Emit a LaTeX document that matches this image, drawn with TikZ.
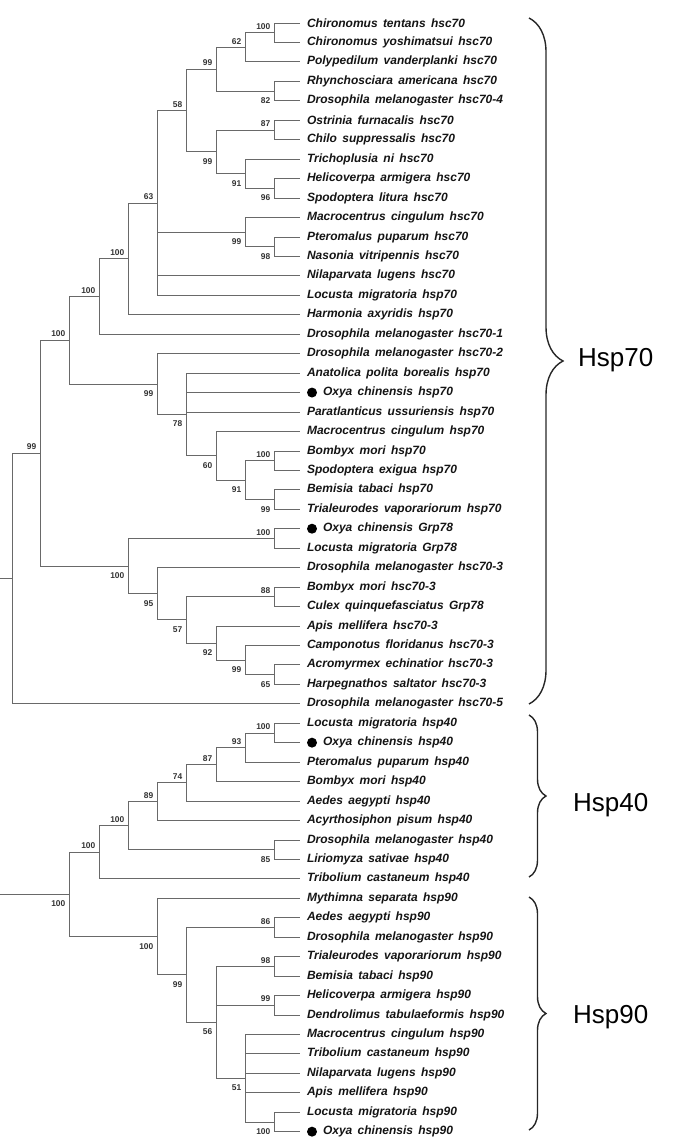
\documentclass[tikz,border=0pt]{standalone}
\usepackage{fontspec}
\setmainfont{Liberation Sans}
\newfontfamily\leaffont[WordSpace=1.6]{Liberation Sans}
\usetikzlibrary{positioning,decorations.pathreplacing}
\definecolor{treegray}{RGB}{105,105,105}
\definecolor{bootgray}{RGB}{50,50,50}
\definecolor{leafink}{RGB}{20,20,20}

\begin{document}
\begin{tikzpicture}[x=1pt,y=-1pt,
  branch/.style={treegray, line width=0.8pt},
  twig/.style={branch, shorten >=7pt},
  leaf/.style={anchor=west, inner sep=0pt, outer sep=0pt, text=leafink, font=\leaffont\bfseries\itshape\fontsize{12}{13}\selectfont},
  oxdot/.style={circle, fill=black, inner sep=0pt, outer sep=0pt, minimum size=10pt},
  bsup/.style={anchor=south east, inner sep=0pt, xshift=-3.5pt, yshift=3pt, text=bootgray, font=\bfseries\fontsize{8.4}{9}\selectfont},
  bsdn/.style={anchor=north east, inner sep=0pt, xshift=-3.5pt, yshift=-6.5pt, text=bootgray, font=\bfseries\fontsize{8.4}{9}\selectfont},
  clade/.style={decorate, decoration={brace, amplitude=#1}, line width=1.4pt, black!85},
  cname/.style={anchor=west, inner sep=0pt, font=\fontsize{26}{30}\selectfont}]
  \useasboundingbox (0,0) rectangle (673,1147);

  % Leaves: Hsp70
  \node[leaf] (l1) at (307,23.00) {Chironomus tentans hsc70};
  \node[leaf] (l2) at (307,42.45) {Chironomus yoshimatsui hsc70};
  \node[leaf] (l3) at (307,61.90) {Polypedilum vanderplanki hsc70};
  \node[leaf] (l4) at (307,81.35) {Rhynchosciara americana hsc70};
  \node[leaf] (l5) at (307,100.80) {Drosophila melanogaster hsc70-4};
  \node[leaf] (l6) at (307,120.25) {Ostrinia furnacalis hsc70};
  \node[leaf] (l7) at (307,139.70) {Chilo suppressalis hsc70};
  \node[leaf] (l8) at (307,159.15) {Trichoplusia ni hsc70};
  \node[leaf] (l9) at (307,178.60) {Helicoverpa armigera hsc70};
  \node[leaf] (l10) at (307,198.05) {Spodoptera litura hsc70};
  \node[leaf] (l11) at (307,217.50) {Macrocentrus cingulum hsc70};
  \node[leaf] (l12) at (307,236.95) {Pteromalus puparum hsc70};
  \node[leaf] (l13) at (307,256.40) {Nasonia vitripennis hsc70};
  \node[leaf] (l14) at (307,275.85) {Nilaparvata lugens hsc70};
  \node[leaf] (l15) at (307,295.30) {Locusta migratoria hsp70};
  \node[leaf] (l16) at (307,314.75) {Harmonia axyridis hsp70};
  \node[leaf] (l17) at (307,334.20) {Drosophila melanogaster hsc70-1};
  \node[leaf] (l18) at (307,353.65) {Drosophila melanogaster hsc70-2};
  \node[leaf] (l19) at (307,373.10) {Anatolica polita borealis hsp70};
  \node[oxdot] (d20) at (312,392.55) {};
  \node[leaf, right=6pt of d20] (l20) {Oxya chinensis hsp70};
  \node[leaf] (l21) at (307,412.00) {Paratlanticus ussuriensis hsp70};
  \node[leaf] (l22) at (307,431.45) {Macrocentrus cingulum hsp70};
  \node[leaf] (l23) at (307,450.90) {Bombyx mori hsp70};
  \node[leaf] (l24) at (307,470.35) {Spodoptera exigua hsp70};
  \node[leaf] (l25) at (307,489.80) {Bemisia tabaci hsp70};
  \node[leaf] (l26) at (307,509.25) {Trialeurodes vaporariorum hsp70};
  \node[oxdot] (d27) at (312,528.70) {};
  \node[leaf, right=6pt of d27] (l27) {Oxya chinensis Grp78};
  \node[leaf] (l28) at (307,548.15) {Locusta migratoria Grp78};
  \node[leaf] (l29) at (307,567.60) {Drosophila melanogaster hsc70-3};
  \node[leaf] (l30) at (307,587.05) {Bombyx mori hsc70-3};
  \node[leaf] (l31) at (307,606.50) {Culex quinquefasciatus Grp78};
  \node[leaf] (l32) at (307,625.95) {Apis mellifera hsc70-3};
  \node[leaf] (l33) at (307,645.40) {Camponotus floridanus hsc70-3};
  \node[leaf] (l34) at (307,664.85) {Acromyrmex echinatior hsc70-3};
  \node[leaf] (l35) at (307,684.30) {Harpegnathos saltator hsc70-3};
  \node[leaf] (l36) at (307,703.75) {Drosophila melanogaster hsc70-5};

  % Leaves: Hsp40
  \node[leaf] (l37) at (307,723.20) {Locusta migratoria hsp40};
  \node[oxdot] (d38) at (312,742.65) {};
  \node[leaf, right=6pt of d38] (l38) {Oxya chinensis hsp40};
  \node[leaf] (l39) at (307,762.10) {Pteromalus puparum hsp40};
  \node[leaf] (l40) at (307,781.55) {Bombyx mori hsp40};
  \node[leaf] (l41) at (307,801.00) {Aedes aegypti hsp40};
  \node[leaf] (l42) at (307,820.45) {Acyrthosiphon pisum hsp40};
  \node[leaf] (l43) at (307,839.90) {Drosophila melanogaster hsp40};
  \node[leaf] (l44) at (307,859.35) {Liriomyza sativae hsp40};
  \node[leaf] (l45) at (307,878.80) {Tribolium castaneum hsp40};

  % Leaves: Hsp90
  \node[leaf] (l46) at (307,898.25) {Mythimna separata hsp90};
  \node[leaf] (l47) at (307,917.70) {Aedes aegypti hsp90};
  \node[leaf] (l48) at (307,937.15) {Drosophila melanogaster hsp90};
  \node[leaf] (l49) at (307,956.60) {Trialeurodes vaporariorum hsp90};
  \node[leaf] (l50) at (307,976.05) {Bemisia tabaci hsp90};
  \node[leaf] (l51) at (307,995.50) {Helicoverpa armigera hsp90};
  \node[leaf] (l52) at (307,1014.95) {Dendrolimus tabulaeformis hsp90};
  \node[leaf] (l53) at (307,1034.40) {Macrocentrus cingulum hsp90};
  \node[leaf] (l54) at (307,1053.85) {Tribolium castaneum hsp90};
  \node[leaf] (l55) at (307,1073.30) {Nilaparvata lugens hsp90};
  \node[leaf] (l56) at (307,1092.75) {Apis mellifera hsp90};
  \node[leaf] (l57) at (307,1112.20) {Locusta migratoria hsp90};
  \node[oxdot] (d58) at (312,1131.65) {};
  \node[leaf, right=6pt of d58] (l58) {Oxya chinensis hsp90};

  % Inner nodes and bootstrap values: Hsp70 tree
  \coordinate (n1) at (274,32.73);   \node[bsup] (bn1) at (n1) {100};
  \coordinate (n2) at (245,47.31);   \node[bsup] (bn2) at (n2) {62};
  \coordinate (n3) at (274,91.08);   \node[bsdn] (bn3) at (n3) {82};
  \coordinate (n4) at (216,69.19);   \node[bsup] (bn4) at (n4) {99};
  \coordinate (n5) at (274,129.98);  \node[bsup] (bn5) at (n5) {87};
  \coordinate (n6) at (274,188.33);  \node[bsdn] (bn6) at (n6) {96};
  \coordinate (n7) at (245,173.74);  \node[bsdn] (bn7) at (n7) {91};
  \coordinate (n8) at (216,151.86);  \node[bsdn] (bn8) at (n8) {99};
  \coordinate (n9) at (186,110.53);  \node[bsup] (bn9) at (n9) {58};
  \coordinate (n10) at (157,202.91); \node[bsup] (bn10) at (n10) {63};
  \coordinate (n11) at (274,246.68); \node[bsdn] (bn11) at (n11) {98};
  \coordinate (n12) at (245,232.09); \node[bsdn] (bn12) at (n12) {99};
  \coordinate (n13) at (128,258.83); \node[bsup] (bn13) at (n13) {100};
  \coordinate (n14) at (99,296.52);  \node[bsup] (bn14) at (n14) {100};
  \coordinate (n15) at (69,340.28);  \node[bsup] (bn15) at (n15) {100};
  \coordinate (n16) at (157,384.04); \node[bsdn] (bn16) at (n16) {99};
  \coordinate (n17) at (186,414.43); \node[bsdn] (bn17) at (n17) {78};
  \coordinate (n18) at (216,455.76); \node[bsdn] (bn18) at (n18) {60};
  \coordinate (n19) at (274,460.63); \node[bsup] (bn19) at (n19) {100};
  \coordinate (n20) at (245,480.08); \node[bsdn] (bn20) at (n20) {91};
  \coordinate (n21) at (274,499.53); \node[bsdn] (bn21) at (n21) {99};
  \coordinate (n22) at (274,538.43); \node[bsup] (bn22) at (n22) {100};
  \coordinate (n23) at (128,566.08); \node[bsdn] (bn23) at (n23) {100};
  \coordinate (n24) at (157,593.74); \node[bsdn] (bn24) at (n24) {95};
  \coordinate (n25) at (186,619.87); \node[bsdn] (bn25) at (n25) {57};
  \coordinate (n26) at (274,596.78); \node[bsup] (bn26) at (n26) {88};
  \coordinate (n27) at (216,642.97); \node[bsdn] (bn27) at (n27) {92};
  \coordinate (n28) at (245,659.99); \node[bsdn] (bn28) at (n28) {99};
  \coordinate (n29) at (274,674.58); \node[bsdn] (bn29) at (n29) {65};
  \coordinate (n30) at (40,453.18);  \node[bsup] (bn30) at (n30) {99};
  \coordinate (r70) at (12,578.47);
  \coordinate (s70) at (0,578.47);

  % Inner nodes and bootstrap values: Hsp40/Hsp90 tree
  \coordinate (m1) at (274,732.93);  \node[bsup] (bm1) at (m1) {100};
  \coordinate (m2) at (245,747.51);  \node[bsup] (bm2) at (m2) {93};
  \coordinate (m3) at (216,764.53);  \node[bsup] (bm3) at (m3) {87};
  \coordinate (m4) at (186,782.77);  \node[bsup] (bm4) at (m4) {74};
  \coordinate (m5) at (157,801.61);  \node[bsup] (bm5) at (m5) {89};
  \coordinate (m6) at (274,849.63);  \node[bsdn] (bm6) at (m6) {85};
  \coordinate (m7) at (128,825.62);  \node[bsup] (bm7) at (m7) {100};
  \coordinate (m8) at (99,852.21);   \node[bsup] (bm8) at (m8) {100};
  \coordinate (m9) at (157,936.55);  \node[bsdn] (bm9) at (m9) {100};
  \coordinate (m10) at (186,974.84); \node[bsdn] (bm10) at (m10) {99};
  \coordinate (m11) at (274,927.43); \node[bsup] (bm11) at (m11) {86};
  \coordinate (m12) at (216,1022.25); \node[bsdn] (bm12) at (m12) {56};
  \coordinate (m13) at (274,966.33); \node[bsup] (bm13) at (m13) {98};
  \coordinate (m14) at (274,1005.23); \node[bsup] (bm14) at (m14) {99};
  \coordinate (m15) at (245,1078.17); \node[bsdn] (bm15) at (m15) {51};
  \coordinate (m16) at (274,1121.93); \node[bsdn] (bm16) at (m16) {100};
  \coordinate (m17) at (69,894.38);  \node[bsdn] (bm17) at (m17) {100};
  \coordinate (s40) at (0,894.38);

  % Branches between inner nodes
  \foreach \p/\c in {n2/n1, n4/n2, n4/n3, n8/n5, n8/n7, n7/n6, n9/n4, n9/n8,
      n10/n9, n10/n12, n12/n11, n13/n10, n14/n13, n15/n14, n15/n16, n16/n17,
      n17/n18, n18/n20, n20/n19, n20/n21, n30/n15, n30/n23, n23/n22, n23/n24,
      n24/n25, n25/n26, n25/n27, n27/n28, n28/n29, r70/n30,
      m2/m1, m3/m2, m4/m3, m5/m4, m7/m5, m7/m6, m8/m7, m17/m8, m17/m9,
      m9/m10, m10/m11, m10/m12, m12/m13, m12/m14, m12/m15, m15/m16}
    \draw[branch] (\p) |- (\c);

  % Branches to leaves
  \foreach \p/\c in {n1/l1, n1/l2, n2/l3, n3/l4, n3/l5, n5/l6, n5/l7, n7/l8,
      n6/l9, n6/l10, n12/l11, n11/l12, n11/l13, n10/l14, n10/l15, n13/l16,
      n14/l17, n16/l18, n17/l19, n17/d20, n17/l21, n18/l22, n19/l23, n19/l24,
      n21/l25, n21/l26, n22/d27, n22/l28, n24/l29, n26/l30, n26/l31, n27/l32,
      n28/l33, n29/l34, n29/l35, r70/l36,
      m1/l37, m1/d38, m2/l39, m3/l40, m4/l41, m5/l42, m6/l43, m6/l44, m8/l45,
      m9/l46, m11/l47, m11/l48, m13/l49, m13/l50, m14/l51, m14/l52, m15/l53,
      m15/l54, m15/l55, m15/l56, m16/l57, m16/d58}
    \draw[twig] (\p) |- (\c);

  % Roots
  \draw[branch] (s70) -- (r70);
  \draw[branch] (s40) -- (m17);

  % Braces and family names
  \coordinate (b70a) at (529,18);   \coordinate (b70b) at (529,704);
  \coordinate (b40a) at (529,715);  \coordinate (b40b) at (529,877);
  \coordinate (b90a) at (529,897);  \coordinate (b90b) at (529,1130);
  \draw[clade=34pt] (b70a) -- (b70b);
  \draw[clade=17pt] (b40a) -- (b40b);
  \draw[clade=17pt] (b90a) -- (b90b);
  \node[cname] (hsp70) at (578,360) {Hsp70};
  \node[cname] (hsp40) at (573,805) {Hsp40};
  \node[cname] (hsp90) at (573,1017) {Hsp90};
\end{tikzpicture}
\end{document}
